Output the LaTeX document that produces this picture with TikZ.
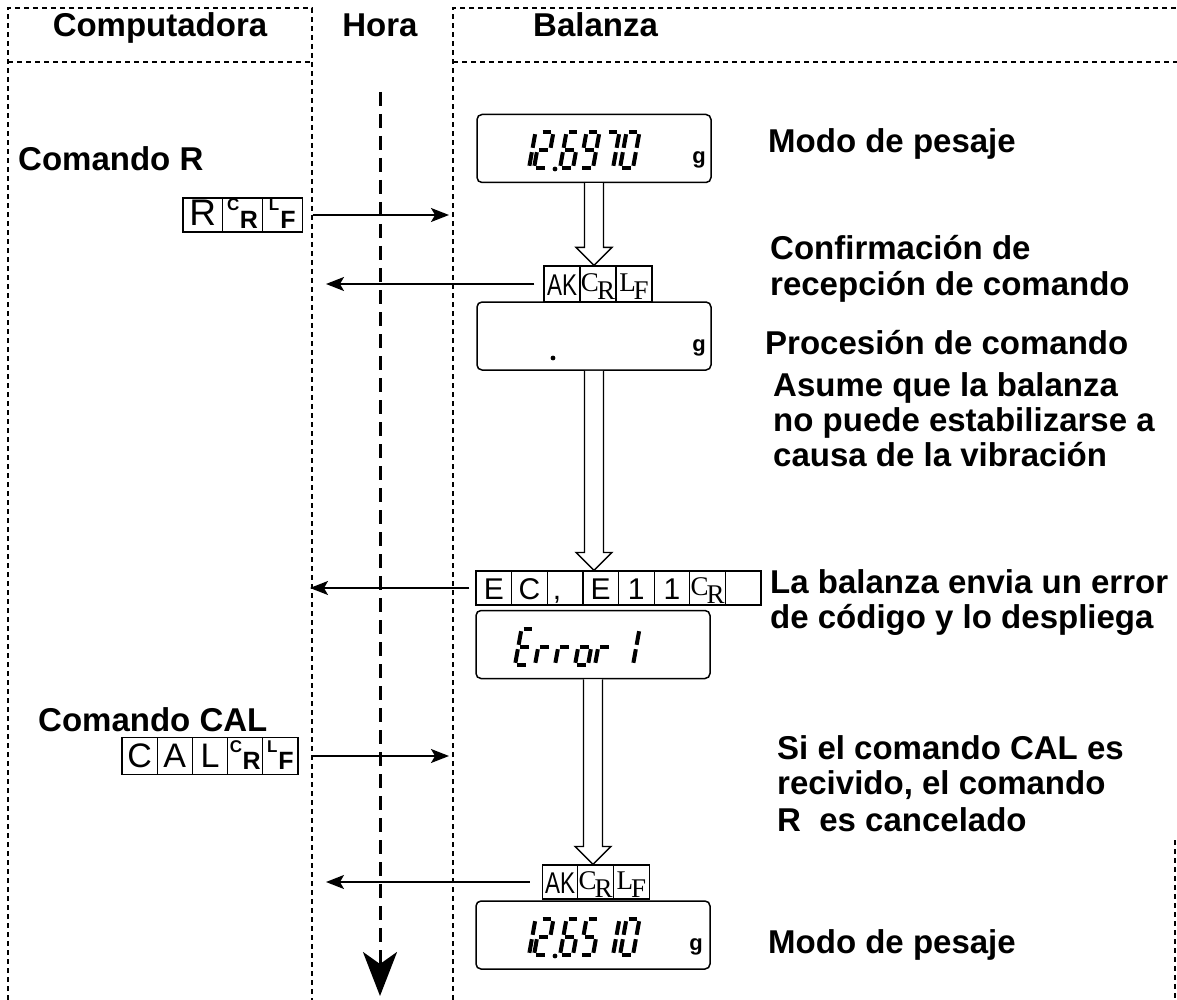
\documentclass[tikz,border=0pt]{standalone}
\usepackage{fontspec}
\setmainfont{Liberation Sans}
\newfontfamily\serifcell{Liberation Serif}
\usetikzlibrary{arrows.meta,calc}

% seven-segment pieces (local coords: x right, negative y up)
\newcommand{\sevsega}{\draw[segline] (2.2,-36)--(10.8,-36);}
\newcommand{\sevsegb}{\draw[segline] (13,-33.8)--(13,-20.2);}
\newcommand{\sevsegc}{\draw[segline] (13,-15.8)--(13,-2.2);}
\newcommand{\sevsegd}{\draw[segline] (2.2,0)--(10.8,0);}
\newcommand{\sevsege}{\draw[segline] (0,-2.2)--(0,-15.8);}
\newcommand{\sevsegf}{\draw[segline] (0,-20.2)--(0,-33.8);}
\newcommand{\sevsegg}{\draw[segline] (2.2,-18)--(10.8,-18);}
\newcommand{\sevdigit}[3]{\begin{scope}[shift={(#1,#2)},xslant=0.18]
  \foreach \s in {#3}{\csname sevseg\s\endcsname}\end{scope}}

\newcommand{\sansCR}{\raisebox{15pt}{\fontsize{17}{17}\selectfont\bfseries C}\kern0.5pt\raisebox{-2pt}{\fontsize{25}{25}\selectfont\bfseries R}}
\newcommand{\sansLF}{\raisebox{15pt}{\fontsize{17}{17}\selectfont\bfseries L}\kern1pt\raisebox{-2pt}{\fontsize{25}{25}\selectfont\bfseries F}}
\newcommand{\serifCR}{{\serifcell\fontsize{27}{27}\selectfont\raisebox{4pt}{C}\kern-2pt\raisebox{-4pt}{R}}}
\newcommand{\serifLF}{{\serifcell\fontsize{27}{27}\selectfont\raisebox{4pt}{L}\kern-2pt\raisebox{-4pt}{F}}}
\newcommand{\akmark}{\scalebox{0.75}[1]{\fontsize{30}{30}\selectfont AK}}
\newcommand{\hollowarrow}[2]{\draw[hollow] ($(#1)+(-9.5,0)$) -- ($(#1 |- #2)+(-9.5,-18)$) -- ($(#1 |- #2)+(-18,-18)$) -- (#1 |- #2) -- ($(#1 |- #2)+(18,-18)$) -- ($(#1 |- #2)+(9.5,-18)$) -- ($(#1)+(9.5,0)$);}

\tikzset{
  colline/.style={line width=2.8pt, dash pattern=on 5pt off 4pt},
  timeline/.style={line width=3pt, dash pattern=on 14pt off 8pt, -{Stealth[length=44pt,width=34pt,inset=12pt]}},
  txt/.style={anchor=base west, inner sep=0pt, font=\fontsize{33}{36}\selectfont\bfseries},
  hdr/.style={anchor=base, inner sep=0pt, font=\fontsize{33}{36}\selectfont\bfseries},
  disp/.style={draw, line width=1.5pt, rounded corners=5pt, minimum width=234pt, minimum height=68pt, inner sep=0pt},
  cellbase/.style={draw, line width=1.2pt, inner sep=0pt, text height=22pt, text depth=0pt},
  cellR/.style={cellbase, minimum width=39.7pt, minimum height=34pt, font=\fontsize{37}{37}\selectfont},
  cellCAL/.style={cellbase, minimum width=35.2pt, minimum height=37pt, font=\fontsize{34}{34}\selectfont},
  cellAK/.style={cellbase, minimum width=36pt, minimum height=36pt},
  cellAKb/.style={cellbase, minimum width=35.7pt, minimum height=34pt},
  cellEC/.style={cellbase, minimum width=35.6pt, minimum height=34pt, font=\fontsize{30}{30}\selectfont},
  msg/.style={line width=1.5pt, -{Stealth[length=18pt,width=14pt,inset=4pt]}},
  hollow/.style={fill=white, draw, line width=1.3pt, line join=miter},
  segline/.style={line width=4pt, line cap=butt},
  gunit/.style={inner sep=0pt, font=\fontsize{22}{22}\selectfont\bfseries}
}

\begin{document}
\begin{tikzpicture}[x=1pt,y=-1pt]
\useasboundingbox (0,0) rectangle (1177,1000);

% column frames
\draw[colline] (8,1000) -- (8,8) -- (312,8) -- (312,1000);
\draw[colline] (8,62) -- (312,62);
\draw[colline] (453,1000) -- (453,8) -- (1177,8);
\draw[colline] (453,62) -- (1177,62);
\draw[colline] (1175,840) -- (1175,1000);

% headers
\node[hdr] (hcomp) at (160,37) {Computadora};
\node[hdr] (hhora) at (380,37) {Hora};
\node[txt] (hbal) at (533,37) {Balanza};

% time line
\coordinate (h0) at (380,92);
\coordinate (h1) at (380,996);
\draw[timeline] (h0) -- (h1);

% left labels
\node[txt] (lcr) at (18,171) {Comando R};
\node[txt] (lccal) at (38,731) {Comando CAL};

% R CR LF
\node[cellR] (r1) at (202.85,215) {R};
\node[cellR] (r2) at (242.55,215) {\sansCR};
\node[cellR] (r3) at (282.25,215) {\sansLF};
\coordinate (t1) at (449,215);
\draw[msg] ([xshift=10pt]r3.east) -- (t1);

% display 1
\node[disp] (d1) at (594,148.5) {};
\sevdigit{516}{168}{b,c}
\sevdigit{534}{168}{a,b,g,e,d}
\fill (555,169) circle (2.4);
\sevdigit{560}{168}{a,f,g,e,d,c}
\sevdigit{580}{168}{a,b,c,d,f,g}
\sevdigit{600}{168}{a,b,c}
\sevdigit{620}{168}{a,b,c,d,e,f}
\node[gunit] (g1) at (699,160) {g};

% AK CR LF (1)
\node[cellAK] (ak1a) at (562,284) {\akmark};
\node[cellAK] (ak1b) at (598,284) {\serifCR};
\node[cellAK] (ak1c) at (634,284) {\serifLF};
\coordinate (t2) at (326,284);
\draw[msg] ([xshift=-9pt]ak1a.west) -- (t2);
\hollowarrow{d1.south}{ak1b.north}

% display 2
\node[disp] (d2) at (594,336) {};
\fill (553,358) circle (2.4);
\node[gunit] (g2) at (699,348) {g};

% EC,E11 CR
\node[cellEC] (ec1) at (493.8,588) {E};
\node[cellEC] (ec2) at (529.4,588) {C};
\node[cellEC] (ec3) at (565.1,588) {,\hspace*{16pt}};
\node[cellEC] (ec4) at (600.7,588) {E};
\node[cellEC] (ec5) at (636.3,588) {1};
\node[cellEC] (ec6) at (671.9,588) {1};
\node[cellEC] (ec7) at (707.6,588) {\serifCR};
\node[cellEC] (ec8) at (743.2,588) {};
\coordinate (t3) at (310,588);
\draw[msg] ([xshift=-6pt]ec1.west) -- (t3);
\hollowarrow{d2.south}{ec4.north}

% display 3: Error 1
\node[disp] (d3) at (593,644.5) {};
\sevdigit{515}{665}{a,f,g,e,d}
\sevdigit{535}{665}{e,g}
\sevdigit{555}{665}{e,g}
\sevdigit{575}{665}{c,d,e,g}
\sevdigit{595}{665}{e,g}
\sevdigit{620}{665}{b,c}

% CAL CR LF
\node[cellCAL] (cal1) at (139.6,756) {C};
\node[cellCAL] (cal2) at (174.8,756) {A};
\node[cellCAL] (cal3) at (210,756) {L};
\node[cellCAL] (cal4) at (245.2,756) {\sansCR};
\node[cellCAL] (cal5) at (280.4,756) {\sansLF};
\coordinate (t4) at (449,756);
\draw[msg] ([xshift=14pt]cal5.east) -- (t4);

% AK CR LF (2)
\node[cellAKb] (ak2a) at (560,882) {\akmark};
\node[cellAKb] (ak2b) at (595.7,882) {\serifCR};
\node[cellAKb] (ak2c) at (631.3,882) {\serifLF};
\coordinate (t5) at (326,882);
\draw[msg] ([xshift=-12pt]ak2a.west) -- (t5);
\hollowarrow{d3.south}{ak2b.north}

% display 4
\node[disp] (d4) at (593,935) {};
\sevdigit{516}{955}{b,c}
\sevdigit{534}{955}{a,b,g,e,d}
\fill (555,956) circle (2.4);
\sevdigit{560}{955}{a,f,g,e,d,c}
\sevdigit{580}{955}{a,f,g,c,d}
\sevdigit{600}{955}{b,c}
\sevdigit{620}{955}{a,b,c,d,e,f}
\node[gunit] (g4) at (696,947) {g};

% right labels
\node[txt] (m1) at (768,153) {Modo de pesaje};
\node[txt] (c1) at (770,259) {Confirmación de};
\node[txt] (c2) at (770,295) {recepción de comando};
\node[txt] (p1) at (765,354) {Procesión de comando};
\node[txt] (a1) at (773,396) {Asume que la balanza};
\node[txt] (a2) at (773,431) {no puede estabilizarse a};
\node[txt] (a3) at (773,466) {causa de la vibración};
\node[txt] (e1) at (770,593) {La balanza envia un error};
\node[txt] (e2) at (770,628) {de código y lo despliega};
\node[txt] (s1) at (777,759) {Si el comando CAL es};
\node[txt] (s2) at (777,794) {recivido, el comando};
\node[txt] (s3) at (777,831) {R\ \ es cancelado};
\node[txt] (m2) at (768,953) {Modo de pesaje};
\end{tikzpicture}
\end{document}
